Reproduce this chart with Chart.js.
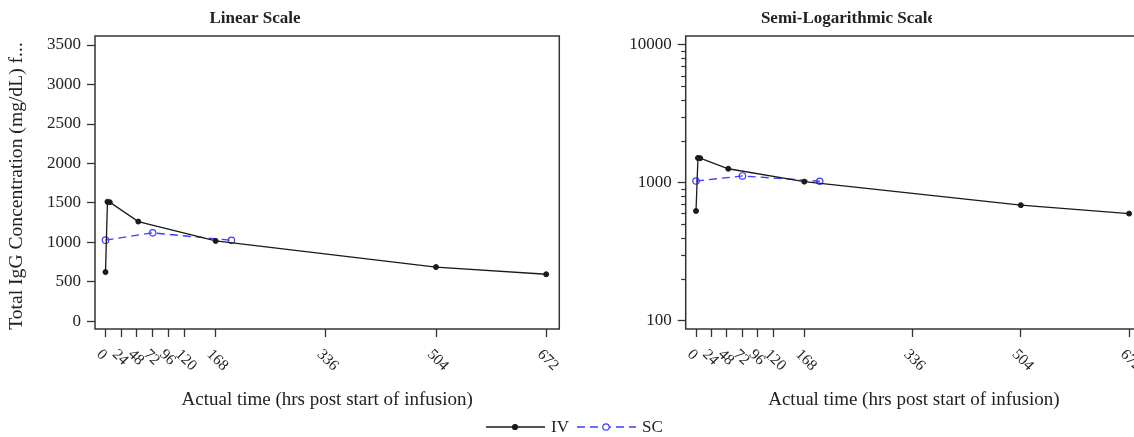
<!doctype html>
<html>
<head>
<meta charset="utf-8">
<title>Total IgG Concentration</title>
<script src="https://cdn.jsdelivr.net/npm/chart.js"></script>
<style>
  html, body { margin: 0; padding: 0; background: #fff; }
  body { width: 1134px; height: 437px; overflow: hidden; position: relative; font-family: 'Liberation Serif', serif; }
  #leftChart { position: absolute; left: 0; top: 0; }
  #rightChart { position: absolute; left: 570px; top: 0; }
  #legend { position: absolute; top: 417px; left: 486px; display: flex; align-items: center; font-size: 17px; color: #222; white-space: nowrap; }
  #legend svg { display: block; }
  #legend span { margin: 0 8px 0 6px; }
</style>
</head>
<body>
<canvas id="leftChart" width="570" height="437"></canvas>
<canvas id="rightChart" width="590" height="437"></canvas>
<div id="legend"></div>
<script>
// data
const ivTime = [0, 3, 6.5, 50, 168, 504, 672];
const ivConc = [625, 1515, 1510, 1265, 1020, 689, 598];
const scTime = [0, 72, 192];
const scConc = [1030, 1122, 1027];

const timeTicks = [0, 24, 48, 72, 96, 120, 168, 336, 504, 672];
const linearTicks = [0, 500, 1000, 1500, 2000, 2500, 3000, 3500];
const logTicks = [100, 1000, 10000];
const logMinorTicks = [200, 300, 400, 500, 600, 700, 800, 900, 2000, 3000, 4000, 5000, 6000, 7000, 8000, 9000];

const xTitle = 'Actual time (hrs post start of infusion)';
const yTitle = 'Total IgG Concentration (mg/dL) f...';

const ivColor = '#1a1a1a';
const scColor = '#3c3cff';
const axisColor = '#333';
const FONT = '"Liberation Serif", "Times New Roman", serif';

function toPoints(xs, ys) {
  return xs.map((x, i) => ({ x: x, y: ys[i] }));
}

function makeDatasets() {
  return [{
    label: 'IV',
    data: toPoints(ivTime, ivConc),
    borderColor: ivColor,
    backgroundColor: ivColor,
    borderWidth: 1.3,
    pointRadius: 2.5,
    pointBorderWidth: 1,
    tension: 0
  }, {
    label: 'SC',
    data: toPoints(scTime, scConc),
    borderColor: scColor,
    backgroundColor: 'rgba(255,255,255,0)',
    borderWidth: 1.3,
    borderDash: [8, 5],
    pointRadius: 3.2,
    pointBorderWidth: 1.2,
    tension: 0
  }];
}

// frame, rotated time labels, titles, minor log ticks
const framePlugin = {
  id: 'frame',
  afterDraw(chart, args, o) {
    const ctx = chart.ctx;
    const a = chart.chartArea;
    const sx = chart.scales.x;
    const sy = chart.scales.y;
    ctx.save();
    ctx.strokeStyle = axisColor;
    ctx.lineWidth = 1.5;
    ctx.strokeRect(a.left, a.top, a.right - a.left, a.bottom - a.top);

    if (o.minor) {
      ctx.lineWidth = 1.2;
      o.minor.forEach(v => {
        const py = Math.round(sy.getPixelForValue(v)) + 0.5;
        ctx.beginPath();
        ctx.moveTo(a.left - 4.5, py);
        ctx.lineTo(a.left, py);
        ctx.stroke();
      });
    }

    ctx.fillStyle = '#222';
    ctx.font = '15.5px ' + FONT;
    ctx.textAlign = 'left';
    ctx.textBaseline = 'middle';
    sx.ticks.forEach(t => {
      const px = sx.getPixelForValue(t.value);
      ctx.save();
      ctx.translate(px - 6.5, a.bottom + 23);
      ctx.rotate(Math.PI / 4);
      ctx.fillText(String(t.value), 0, 0);
      ctx.restore();
    });

    ctx.textAlign = 'center';
    ctx.font = '19px ' + FONT;
    ctx.fillText(xTitle, (a.left + a.right) / 2, 400);

    ctx.save();
    if (o.clipRight) {
      ctx.beginPath();
      ctx.rect(0, 0, o.clipRight, 60);
      ctx.clip();
    }
    ctx.font = 'bold 17px ' + FONT;
    ctx.fillText(o.title, o.titleX, 19);
    ctx.restore();

    if (o.yTitle) {
      ctx.save();
      ctx.translate(17, 186);
      ctx.rotate(-Math.PI / 2);
      ctx.font = '19.6px ' + FONT;
      ctx.fillText(o.yTitle, 0, 0);
      ctx.restore();
    }
    ctx.restore();
  }
};

function makeChart(id, cfg) {
  return new Chart(document.getElementById(id), {
    type: 'line',
    data: { datasets: makeDatasets() },
    options: {
      responsive: false,
      animation: false,
      devicePixelRatio: 1,
      layout: { padding: { left: 0, top: 36, right: cfg.padRight, bottom: 0 } },
      plugins: {
        legend: { display: false },
        tooltip: { enabled: false },
        frame: cfg.frame
      },
      scales: {
        x: {
          type: 'linear',
          min: -16,
          max: 692,
          afterBuildTicks: s => { s.ticks = timeTicks.map(v => ({ value: v })); },
          afterFit: s => { s.height = 108; },
          ticks: { display: false },
          grid: { drawOnChartArea: false, tickLength: 8, tickColor: axisColor, tickWidth: 1.3 },
          border: { display: false }
        },
        y: {
          type: cfg.yType,
          min: cfg.yMin,
          max: cfg.yMax,
          afterBuildTicks: s => { s.ticks = cfg.yTicks.map(v => ({ value: v })); },
          afterFit: s => { s.width = cfg.yWidth; },
          ticks: {
            color: '#222',
            padding: 6,
            font: { family: FONT, size: 17 },
            callback: v => String(v)
          },
          grid: { drawOnChartArea: false, tickLength: 8, tickColor: axisColor, tickWidth: 1.3 },
          border: { display: false }
        }
      }
    },
    plugins: [framePlugin]
  });
}

makeChart('leftChart', {
  yType: 'linear', yMin: -95, yMax: 3614, yTicks: linearTicks, yWidth: 95, padRight: 10.7,
  frame: { title: 'Linear Scale', titleX: 255, yTitle: yTitle }
});

makeChart('rightChart', {
  yType: 'logarithmic', yMin: 87, yMax: 11620, yTicks: logTicks, yWidth: 115.7, padRight: 18,
  frame: { title: 'Semi-Logarithmic Scale', titleX: 278, minor: logMinorTicks, clipRight: 362 }
});

// legend
function legendItem(label, color, dashed, filled) {
  const svg = '<svg width="59" height="14"><line x1="0" y1="7" x2="59" y2="7" stroke="' + color +
    '" stroke-width="1.3"' + (dashed ? ' stroke-dasharray="8,5"' : '') + '/>' +
    '<circle cx="29" cy="7" r="' + (filled ? 2.5 : 3.2) + '" fill="' + (filled ? color : '#fff') +
    '" stroke="' + color + '" stroke-width="1.2"/></svg>';
  return svg + '<span>' + label + '</span>';
}
document.getElementById('legend').innerHTML =
  legendItem('IV', ivColor, false, true) + legendItem('SC', scColor, true, false);
</script>
</body>
</html>
